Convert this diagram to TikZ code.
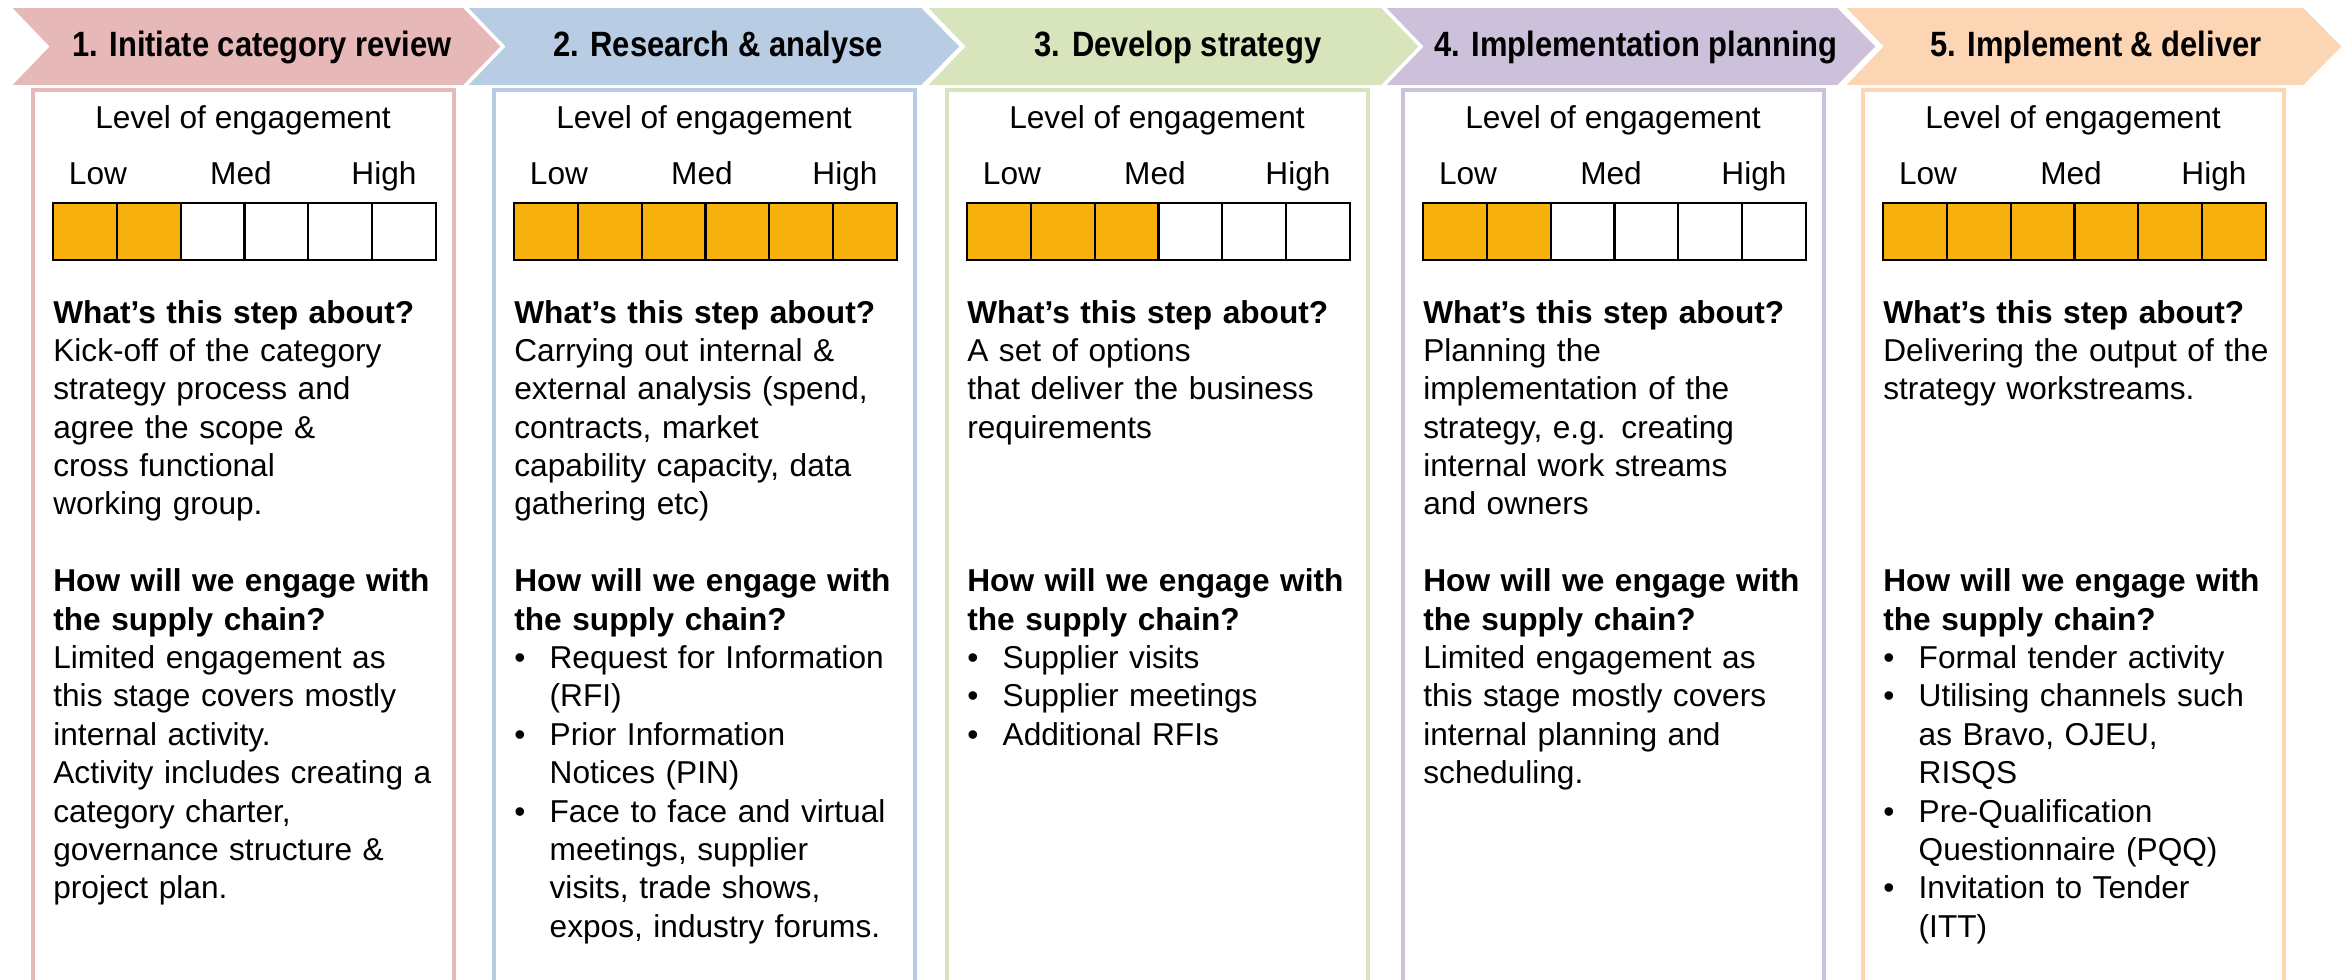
\documentclass[tikz,border=0pt]{standalone}
\usepackage{fontspec}
\setmainfont{Liberation Sans}
\newfontfamily\titlefont[FakeStretch=0.88]{Liberation Sans}
\definecolor{reviewpink}{HTML}{E6B8B7}
\definecolor{researchblue}{HTML}{B8CCE4}
\definecolor{strategygreen}{HTML}{D8E4BC}
\definecolor{planpurple}{HTML}{CCC0DA}
\definecolor{deliverpeach}{HTML}{FCD5B4}
\definecolor{engage}{HTML}{F8B10C}
\newcommand\bulletline[1]{\makebox[20.1pt][l]{\textbullet}#1}
\newcommand\indentline[1]{\hspace*{20.1pt}#1}

\begin{document}
\begin{tikzpicture}[x=0.2mm, y=-0.2mm,
    chevron/.style={draw=white, line width=2pt},
    steptitle/.style={anchor=base, font=\titlefont\bfseries\fontsize{20}{24}\selectfont},
    colframe/.style={line width=2pt},
    levelnote/.style={anchor=base, font=\fontsize{18}{22}\selectfont},
    cell/.style={draw=black, line width=1.3pt},
    stepbody/.style={anchor=base west, inner sep=0pt, text width=82mm, align=left, font=\fontsize{18}{21.85}\selectfont}
  ]
  \useasboundingbox (0,0) rectangle (2351,980);

  \foreach \n/\cx/\cw/\bx/\col/\lvl/\stepname in {
      1/8/456/33/reviewpink/2/{1. Initiate category review},
      2/464/458/494/researchblue/6/{2. Research \& analyse},
      3/924/458/947/strategygreen/3/{3. Develop strategy},
      4/1382/456/1403/planpurple/2/{4. Implementation planning},
      5/1842/462/1863/deliverpeach/6/{5. Implement \& deliver}}{
    \path[chevron, fill=\col] (\cx,6) -- ++(\cw,0) -- ++(40,40.5) -- ++(-40,40.5)
      -- ++(-\cw,0) -- ++(39,-40.5) -- cycle;
    \node[steptitle] (title\n) at (\cx+254,57) {\stepname};
    \draw[colframe, draw=\col] (\bx,990) |- (\bx+421,90) -- (\bx+421,990);
    \node[levelnote] (level\n) at (\bx+210,129) {Level of engagement};
    \node[levelnote] (low\n) at (\bx+65,185) {Low};
    \node[levelnote] (med\n) at (\bx+208,185) {Med};
    \node[levelnote] (high\n) at (\bx+351,185) {High};
    \foreach \k in {1,...,6}{
      \ifnum\k>\lvl\relax \def\fc{white}\else \def\fc{engage}\fi
      \draw[cell, fill=\fc] (\bx+20+63.83*\k-63.83,203) rectangle ++(63.83,57);
    }
  }

  \node[stepbody] (about1) at (53,323) {%
    \textbf{What’s this step about?}\\
    Kick-off of the category\\
    strategy process and\\
    agree the scope \&\\
    cross functional\\
    working group.\\[\baselineskip]
    \textbf{How will we engage with}\\
    \textbf{the supply chain?}\\
    Limited engagement as\\
    this stage covers mostly\\
    internal activity.\\
    Activity includes creating a\\
    category charter,\\
    governance structure \&\\
    project plan.};

  \node[stepbody] (about2) at (514,323) {%
    \textbf{What’s this step about?}\\
    Carrying out internal \&\\
    external analysis (spend,\\
    contracts, market\\
    capability capacity, data\\
    gathering etc)\\[\baselineskip]
    \textbf{How will we engage with}\\
    \textbf{the supply chain?}\\
    \bulletline{Request for Information}\\
    \indentline{(RFI)}\\
    \bulletline{Prior Information}\\
    \indentline{Notices (PIN)}\\
    \bulletline{Face to face and virtual}\\
    \indentline{meetings, supplier}\\
    \indentline{visits, trade shows,}\\
    \indentline{expos, industry forums.}};

  \node[stepbody] (about3) at (967,323) {%
    \textbf{What’s this step about?}\\
    A set of options\\
    that deliver the business\\
    requirements\\[3\baselineskip]
    \textbf{How will we engage with}\\
    \textbf{the supply chain?}\\
    \bulletline{Supplier visits}\\
    \bulletline{Supplier meetings}\\
    \bulletline{Additional RFIs}};

  \node[stepbody] (about4) at (1423,323) {%
    \textbf{What’s this step about?}\\
    Planning the\\
    implementation of the\\
    strategy, e.g. creating\\
    internal work streams\\
    and owners\\[\baselineskip]
    \textbf{How will we engage with}\\
    \textbf{the supply chain?}\\
    Limited engagement as\\
    this stage mostly covers\\
    internal planning and\\
    scheduling.};

  \node[stepbody] (about5) at (1883,323) {%
    \textbf{What’s this step about?}\\
    Delivering the output of the\\
    strategy workstreams.\\[4\baselineskip]
    \textbf{How will we engage with}\\
    \textbf{the supply chain?}\\
    \bulletline{Formal tender activity}\\
    \bulletline{Utilising channels such}\\
    \indentline{as Bravo, OJEU,}\\
    \indentline{RISQS}\\
    \bulletline{Pre-Qualification}\\
    \indentline{Questionnaire (PQQ)}\\
    \bulletline{Invitation to Tender}\\
    \indentline{(ITT)}};
\end{tikzpicture}
\end{document}
